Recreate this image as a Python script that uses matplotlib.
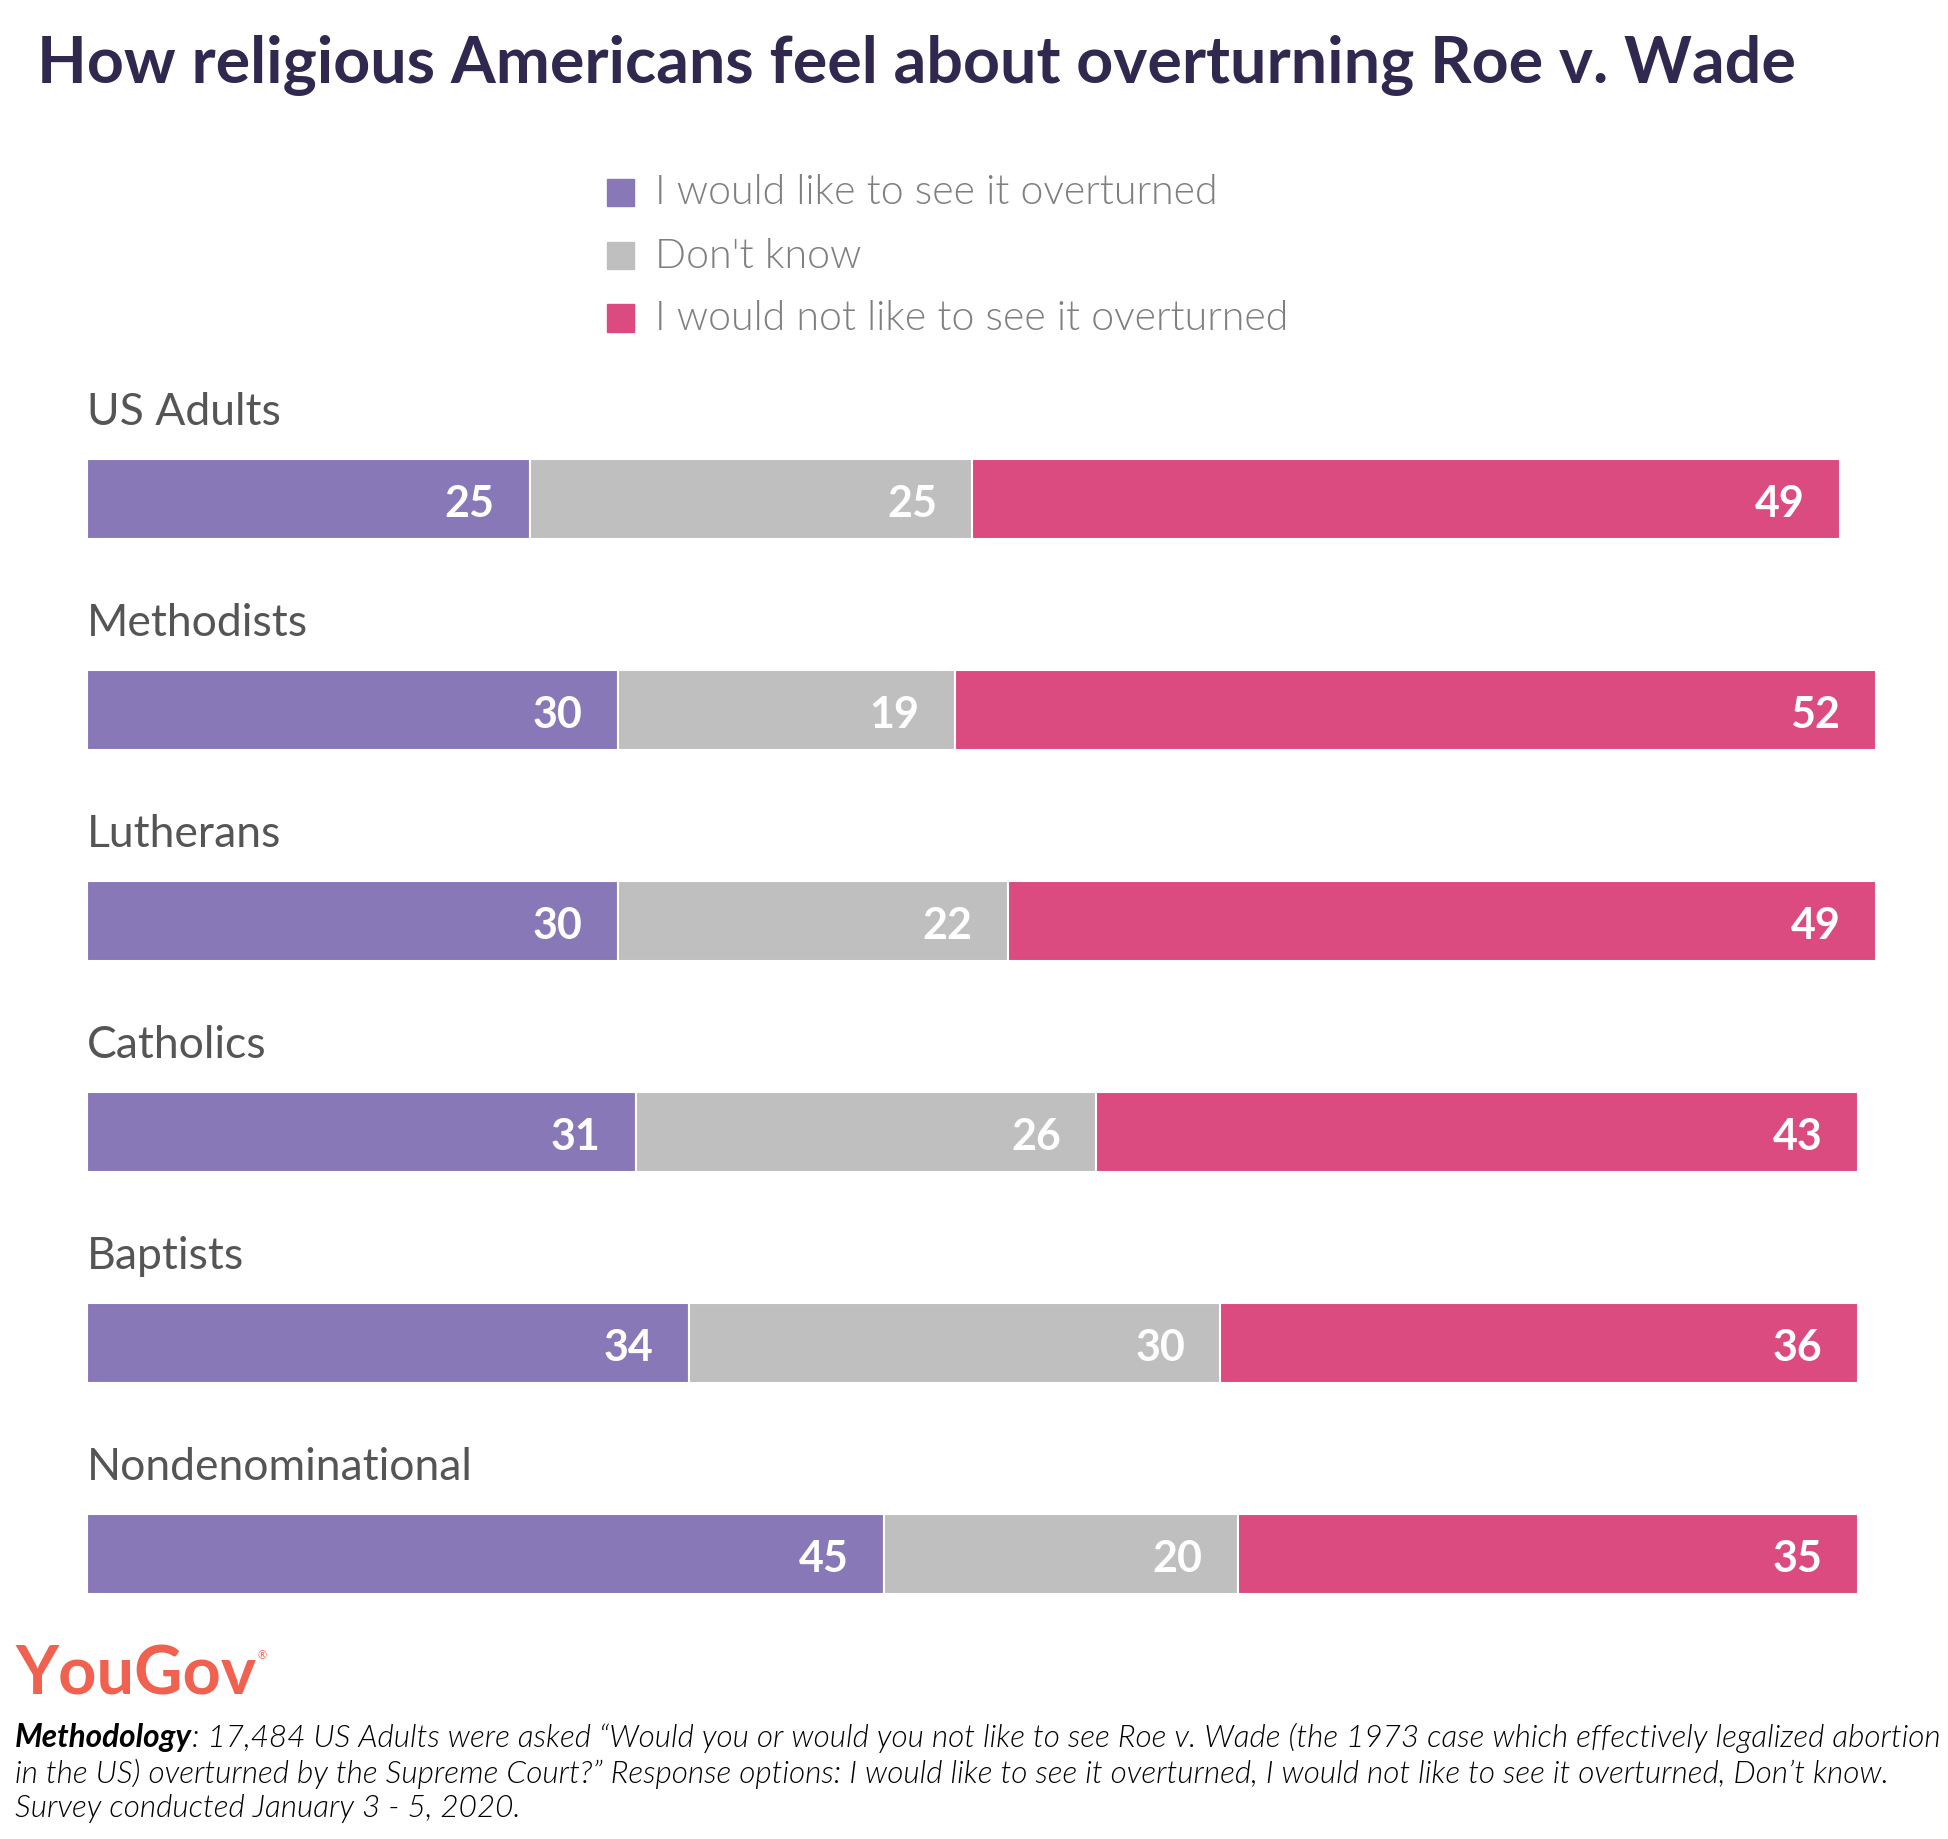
import numpy as np
import matplotlib.pyplot as plt
from matplotlib.patches import Rectangle

# Data
groups = ['US Adults', 'Methodists', 'Lutherans', 'Catholics', 'Baptists', 'Nondenominational']
overturn = [25, 30, 30, 31, 34, 45]
dont_know = [25, 19, 22, 26, 30, 20]
not_overturn = [49, 52, 49, 43, 36, 35]
series_names = ['I would like to see it overturned', "Don't know", 'I would not like to see it overturned']
colors = ['#8878b7', '#bfbfbf', '#dc4b80']

W, H = 1949, 1840
plt.rcParams['font.family'] = ['Lato', 'DejaVu Sans']
fig = plt.figure(figsize=(W / 100, H / 100), dpi=100)

# Axes placed so bars line up with the reference
ax = fig.add_axes([87 / W, 1 - 1660.5 / H, 1 - 87 / W, 1266 / H])
ax.set_xlim(0, 1862 / 17.71)
ax.set_ylim(5.5, -0.5)
ax.axis('off')

y = np.arange(len(groups))
left = np.zeros(len(groups))
for vals, col in zip([overturn, dont_know, not_overturn], colors):
    vals = np.array(vals)
    ax.barh(y, vals, left=left, height=0.38, color=col, edgecolor='white', linewidth=1.5)
    for yi, l, v in zip(y, left, vals):
        ax.text(l + v - 2.0, yi + 0.02, str(v), ha='right', va='center',
                color='white', fontsize=31, fontweight='bold')
    left += vals

# Group labels above the bars
for yi, g in zip(y, groups):
    ax.text(0, yi - 0.415, g, ha='left', va='center', color='#555555', fontsize=32)

# Title
fig.text(37 / W, 1 - 65 / H, 'How religious Americans feel about overturning Roe v. Wade',
         ha='left', va='center', color='#30284f', fontsize=46.5, fontweight='bold')

# Legend
for i, (name, col) in enumerate(zip(series_names, colors)):
    cy = 193 + i * 63
    fig.add_artist(Rectangle((607 / W, 1 - (cy + 13.5) / H), 27 / W, 27 / H,
                             transform=fig.transFigure, color=col))
    fig.text(655 / W, 1 - cy / H, name, ha='left', va='center',
             color='#7f7f7f', fontsize=29.5, fontweight=300)

# Logo
logo = fig.text(15 / W, 1 - 1676 / H, 'YouGov', ha='left', va='center',
                color='#f0614f', fontsize=48, fontweight='bold')
ax.annotate('®', xy=(1, 1), xycoords=logo, xytext=(1, -4), textcoords='offset points',
            ha='left', va='top', color='#f0614f', fontsize=8, annotation_clip=False)

# Methodology note
fs = 22.7
t1 = fig.text(15 / W, 1 - 1738 / H, 'Methodology', ha='left', va='center',
              color='black', fontsize=fs, fontweight='bold', style='italic')
ax.annotate(': 17,484 US Adults were asked \u201cWould you or would you not like to see Roe v. Wade '
            '(the 1973 case which effectively legalized abortion',
            xy=(1, 0.5), xycoords=t1, ha='left', va='center',
            color='black', fontsize=fs, fontweight=300, style='italic', annotation_clip=False)
fig.text(15 / W, 1 - 1774 / H,
         'in the US) overturned by the Supreme Court?\u201d Response options: I would like to see it overturned, '
         'I would not like to see it overturned, Don\u2019t know.',
         ha='left', va='center', color='black', fontsize=fs, fontweight=300, style='italic')
fig.text(15 / W, 1 - 1809 / H, 'Survey conducted January 3 - 5, 2020.',
         ha='left', va='center', color='black', fontsize=fs, fontweight=300, style='italic')

fig.savefig('out.png', dpi=100, facecolor='white')
